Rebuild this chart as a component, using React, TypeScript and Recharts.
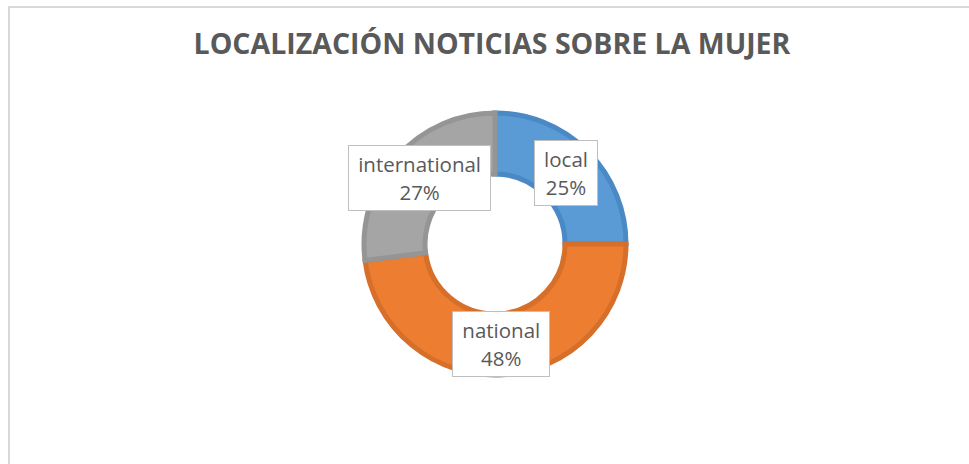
import { Cell, Pie, PieChart } from 'recharts';

const categorias = ['local', 'national', 'international'];
const valores = [25, 48, 27];
const coresClaras = ['#5B9BD5', '#ED7D31', '#A5A5A5'];
const coresEscuras = ['#4A89C6', '#D56F29', '#959595'];

const dados = categorias.map((name, i) => ({ name, value: valores[i] }));

const RADIAN = Math.PI / 180;

const Rotulo = (props: any) => {
  const { cx, cy, midAngle, innerRadius, outerRadius, name, percent } = props;
  const r = (innerRadius + outerRadius) / 2;
  const x = cx + r * Math.cos(-midAngle * RADIAN);
  const y = cy + r * Math.sin(-midAngle * RADIAN);
  return (
    <foreignObject x={x - 110} y={y - 60} width={220} height={120}>
      <div
        style={{
          width: '100%',
          height: '100%',
          display: 'flex',
          alignItems: 'center',
          justifyContent: 'center',
        }}
      >
        <div
          style={{
            background: '#fff',
            border: '1.5px solid #bfbfbf',
            padding: '4px 9px',
            fontFamily: '"Open Sans", sans-serif',
            fontSize: 20.5,
            lineHeight: '28px',
            color: '#595959',
            textAlign: 'center',
            whiteSpace: 'nowrap',
          }}
        >
          {name}
          <br />
          {Math.round(percent * 100)}%
        </div>
      </div>
    </foreignObject>
  );
};

const GraficoLocalizacao = () => {
  return (
    <div
      style={{
        position: 'fixed',
        left: 0,
        top: 0,
        width: 969,
        height: 464,
        background: '#fff',
        overflow: 'hidden',
      }}
    >
      <div
        style={{
          position: 'absolute',
          left: 8,
          top: 6,
          right: -10,
          bottom: -10,
          borderTop: '2px solid #d9d9d9',
          borderLeft: '2px solid #d9d9d9',
        }}
      />
      <div
        style={{
          position: 'absolute',
          left: 142,
          top: 24,
          width: 700,
          textAlign: 'center',
          fontFamily: '"Open Sans", sans-serif',
          fontWeight: 700,
          fontSize: 28.5,
          color: '#595959',
          whiteSpace: 'nowrap',
        }}
      >
        LOCALIZACIÓN NOTICIAS SOBRE LA MUJER
      </div>
      <div style={{ position: 'absolute', left: 0, top: 0 }}>
        <PieChart
          width={969}
          height={464}
          margin={{ top: 0, right: 0, bottom: 0, left: 0 }}
        >
          <Pie
            data={dados}
            dataKey="value"
            nameKey="name"
            cx={495}
            cy={244}
            innerRadius={70}
            outerRadius={131}
            startAngle={90}
            endAngle={-270}
            label={Rotulo}
            labelLine={false}
            isAnimationActive={false}
          >
            {dados.map((d, i) => (
              <Cell
                key={d.name}
                fill={coresClaras[i]}
                stroke={coresEscuras[i]}
                strokeWidth={5}
              />
            ))}
          </Pie>
        </PieChart>
      </div>
    </div>
  );
};

export default function App() {
  return <GraficoLocalizacao />;
}
